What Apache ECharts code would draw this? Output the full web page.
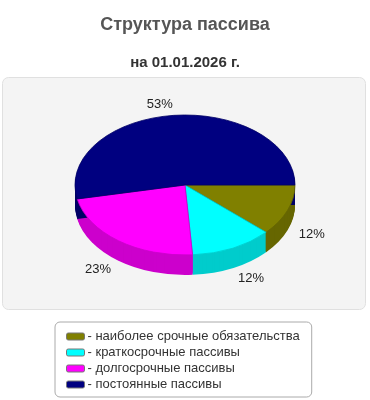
<!DOCTYPE html>
<html>
<head>
<meta charset="utf-8">
<script src="https://cdn.jsdelivr.net/npm/echarts@6/dist/echarts.min.js"></script>
<style>
html, body { margin: 0; padding: 0; background: #fff; }
#chart { width: 370px; height: 400px; }
</style>
</head>
<body>
<div id="chart"></div>
<script>
const categories = [
    'наиболее срочные обязательства',
    'краткосрочные пассивы',
    'долгосрочные пассивы',
    'постоянные пассивы'
];
const values = [11.8, 12.1, 22.9, 53.2];
const colors = ['#808000', '#00ffff', '#ff00ff', '#000080'];
const sideColors = ['#666600', '#00cccc', '#cc00cc', '#000066'];

const FONT = '"Liberation Sans", Arial, sans-serif';
const total = values.reduce((a, b) => a + b, 0);
const starts = values.map((v, i) => values.slice(0, i).reduce((a, b) => a + b, 0));

// pie geometry (top ellipse + side depth)
const CX = 185, CY = 185, RX = 110, RY = 70, DEPTH = 20;

const sliceItem = (i) => () => {
    const a0 = starts[i] / total * Math.PI * 2;
    const a1 = (starts[i] + values[i]) / total * Math.PI * 2;
    const k = RY / RX;
    const shape = { cx: CX, cy: CY, r: RX, startAngle: a0, endAngle: a1, clockwise: true };
    const children = [];
    // side wall: stacked darker layers
    for (let d = DEPTH; d >= 1; d--) {
        children.push({
            type: 'sector', z2: 1, y: d, scaleY: k, originX: CX, originY: CY,
            shape: shape,
            style: { fill: sideColors[i] }
        });
    }
    // top face
    children.push({
        type: 'sector', z2: 10, scaleY: k, originX: CX, originY: CY,
        shape: shape,
        style: { fill: colors[i], stroke: sideColors[i], lineWidth: 1, strokeNoScale: true }
    });
    // percent label
    const m = (a0 + a1) / 2;
    const c = Math.cos(m), s = Math.sin(m);
    children.push({
        type: 'text', z2: 20,
        x: CX + 122 * c,
        y: CY + 81 * s + (s > 0 ? DEPTH : 0),
        style: {
            text: Math.round(values[i] / total * 100) + '%',
            align: c >= 0 ? 'left' : 'right',
            verticalAlign: 'middle',
            font: '13px ' + FONT,
            fill: '#222'
        }
    });
    return { type: 'group', children: children };
};

const chart = echarts.init(document.getElementById('chart'));
chart.setOption({
    animation: false,
    title: {
        text: 'Структура пассива',
        subtext: 'на 01.01.2026 г.',
        left: 'center',
        top: 11,
        itemGap: 21,
        textStyle: { fontFamily: FONT, fontSize: 18, fontWeight: 'bold', color: '#555' },
        subtextStyle: { fontFamily: FONT, fontSize: 15, fontWeight: 'bold', color: '#333' }
    },
    graphic: [{
        type: 'rect', z: -10, x: 2.5, y: 77.5,
        shape: { width: 363, height: 232, r: 6 },
        style: { fill: '#f4f4f4', stroke: '#e0e0e0', lineWidth: 1 }
    }],
    legend: {
        orient: 'vertical',
        left: 55,
        top: 322,
        height: 70,
        data: categories,
        icon: 'roundRect',
        itemWidth: 18,
        itemHeight: 7,
        itemGap: 3,
        padding: [8, 12, 6, 11],
        backgroundColor: '#fff',
        borderColor: '#aaa',
        borderWidth: 1,
        borderRadius: 5,
        formatter: (name) => '- ' + name,
        itemStyle: { borderColor: '#777', borderWidth: 1 },
        textStyle: { fontFamily: FONT, fontSize: 13, color: '#333', lineHeight: 12, padding: [0, 0, 0, -2] }
    },
    series: categories.map((name, i) => ({
        type: 'custom',
        name: name,
        coordinateSystem: 'none',
        itemStyle: { color: colors[i] },
        data: [values[i]],
        renderItem: sliceItem(i)
    }))
});
</script>
</body>
</html>
